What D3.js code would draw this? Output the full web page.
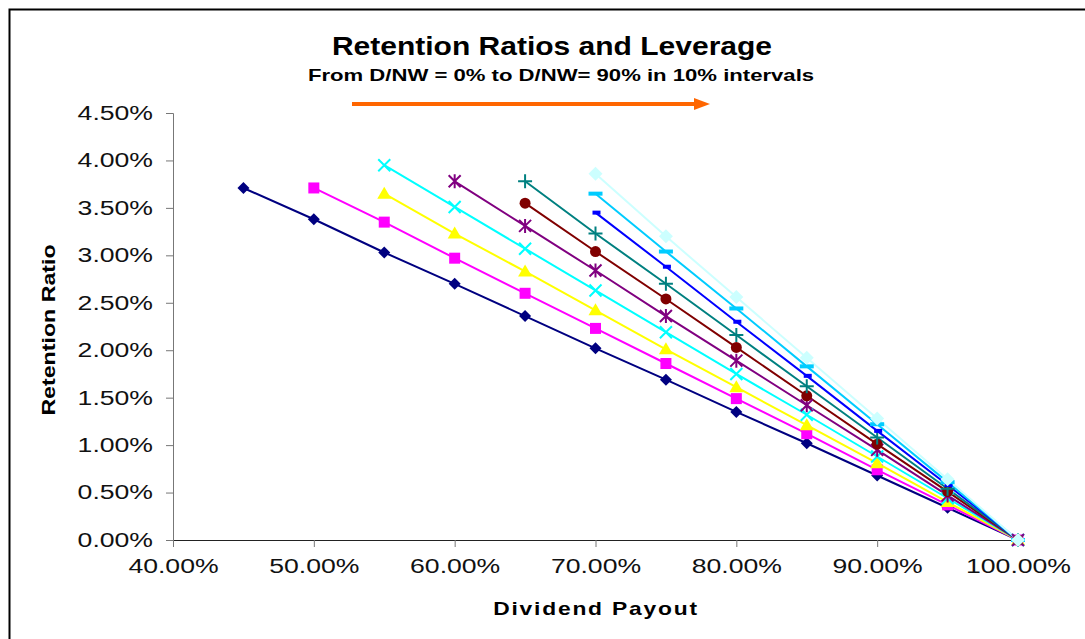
<!DOCTYPE html>
<html lang="en">
<head>
    <meta charset="UTF-8">
    <title>Retention Ratios and Leverage</title>
    <script src="https://d3js.org/d3.v7.min.js"></script>
    <style>
        body { margin: 0; background: #fff; font-family: "Liberation Sans", Arial, sans-serif; }
        .tick text { font-size: 20px; fill: #111; }
        .title { font-size: 25px; font-weight: bold; }
        .subtitle { font-size: 16.5px; font-weight: bold; }
        .axis-label { font-weight: bold; }
    </style>
</head>
<body>
    <div id="chart"></div>
    <script>
        const width = 1085, height = 639;

        // Dividend payout categories (x)
        const payouts = [0.45, 0.50, 0.55, 0.60, 0.65, 0.70, 0.75, 0.80, 0.85, 0.90, 0.95, 1.00];

        // Retention ratio per D/NW level, starting at the first payout value shown
        const dnw0 = [0.0371, 0.0338, 0.0303, 0.0270, 0.0236, 0.0202, 0.0169, 0.0135, 0.0102, 0.0068, 0.0034, 0];
        const dnw10 = [null, 0.0371, 0.0335, 0.0297, 0.0260, 0.0223, 0.0186, 0.0149, 0.0112, 0.0074, 0.0037, 0];
        const dnw20 = [null, null, 0.0365, 0.0323, 0.0283, 0.0242, 0.0201, 0.0161, 0.0121, 0.0081, 0.0040, 0];
        const dnw30 = [null, null, 0.0395, 0.0351, 0.0307, 0.0263, 0.0219, 0.0175, 0.0132, 0.0088, 0.0044, 0];
        const dnw40 = [null, null, null, 0.0378, 0.0331, 0.0284, 0.0236, 0.0189, 0.0142, 0.0095, 0.0047, 0];
        const dnw50 = [null, null, null, null, 0.0355, 0.0304, 0.0254, 0.0203, 0.0152, 0.0101, 0.0051, 0];
        const dnw60 = [null, null, null, null, 0.0378, 0.0323, 0.0270, 0.0216, 0.0162, 0.0108, 0.0054, 0];
        const dnw70 = [null, null, null, null, null, 0.0345, 0.0288, 0.0230, 0.0173, 0.0115, 0.0058, 0];
        const dnw80 = [null, null, null, null, null, 0.0365, 0.0304, 0.0244, 0.0183, 0.0122, 0.0061, 0];
        const dnw90 = [null, null, null, null, null, 0.0386, 0.0320, 0.0256, 0.0192, 0.0128, 0.0064, 0];

        const xTicks = [0.4, 0.5, 0.6, 0.7, 0.8, 0.9, 1.0];
        const yTicks = [0, 0.005, 0.01, 0.015, 0.02, 0.025, 0.03, 0.035, 0.04, 0.045];

        const series = [
            { values: dnw0, color: "#000080", marker: "diamond" },
            { values: dnw10, color: "#FF00FF", marker: "square" },
            { values: dnw20, color: "#FFFF00", marker: "triangle" },
            { values: dnw30, color: "#00FFFF", marker: "x" },
            { values: dnw40, color: "#800080", marker: "star" },
            { values: dnw50, color: "#800000", marker: "circle" },
            { values: dnw60, color: "#008080", marker: "plus" },
            { values: dnw70, color: "#0000FF", marker: "shortdash" },
            { values: dnw80, color: "#00CCFF", marker: "longdash" },
            { values: dnw90, color: "#CCFFFF", marker: "bigdiamond" }
        ];

        const x = d3.scaleLinear().domain([0.4, 1.0]).range([173, 1018]);
        const y = d3.scaleLinear().domain([0, 0.045]).range([540, 113]);

        const svg = d3.select("#chart").append("svg")
            .attr("width", width).attr("height", height);

        // the original image is stretched sideways, widen text to match
        function stretch(sel, k) {
            sel.each(function () {
                const len = this.getComputedTextLength();
                d3.select(this).attr("textLength", len * k).attr("lengthAdjust", "spacingAndGlyphs");
            });
        }

        // Outer frame
        svg.append("rect")
            .attr("x", 9.5).attr("y", 9.5)
            .attr("width", width + 20).attr("height", height + 20)
            .attr("fill", "none").attr("stroke", "#000").attr("stroke-width", 2);

        // Titles
        svg.append("text").attr("class", "title")
            .attr("x", 552).attr("y", 55).attr("text-anchor", "middle")
            .text("Retention Ratios and Leverage")
            .call(stretch, 1.2);
        svg.append("text").attr("class", "subtitle")
            .attr("x", 561).attr("y", 81).attr("text-anchor", "middle")
            .text("From D/NW = 0% to D/NW= 90% in 10% intervals")
            .call(stretch, 1.34);

        // Orange arrow
        svg.append("line")
            .attr("x1", 352).attr("x2", 696).attr("y1", 104).attr("y2", 104)
            .attr("stroke", "#FF6600").attr("stroke-width", 4);
        svg.append("path")
            .attr("d", "M694,98 L710,104 L694,110 Z")
            .attr("fill", "#FF6600");

        // Axes
        const fmt = d3.format(".2%");
        const yAxis = svg.append("g").attr("transform", `translate(173,0)`)
            .call(d3.axisLeft(y).tickValues(yTicks).tickFormat(fmt).tickSize(7).tickPadding(13));
        yAxis.select(".domain").attr("stroke", "#777");
        yAxis.selectAll(".tick line").attr("stroke", "#777");
        yAxis.selectAll(".tick text").call(stretch, 1.33);

        const xAxis = svg.append("g").attr("transform", `translate(0,540)`)
            .call(d3.axisBottom(x).tickValues(xTicks).tickFormat(fmt).tickSize(7).tickPadding(12));
        xAxis.select(".domain").attr("stroke", "#222");
        xAxis.selectAll(".tick line").attr("stroke", "#777");
        xAxis.selectAll(".tick text").call(stretch, 1.33);

        svg.append("text").attr("class", "axis-label")
            .attr("transform", "rotate(-90)")
            .attr("x", -330).attr("y", 55)
            .attr("text-anchor", "middle").attr("font-size", 19)
            .text("Retention Ratio")
            .call(stretch, 1.22);
        svg.append("text").attr("class", "axis-label")
            .attr("x", 596).attr("y", 615)
            .attr("text-anchor", "middle").attr("font-size", 19)
            .attr("letter-spacing", "1.5px")
            .text("Dividend Payout")
            .call(stretch, 1.2);

        // Lines and markers
        const line = d3.line()
            .defined(d => d.v !== null)
            .x(d => x(d.p)).y(d => y(d.v));

        series.forEach(s => {
            const pts = payouts.map((p, i) => ({ p, v: s.values[i] }));
            svg.append("path").datum(pts)
                .attr("d", line)
                .attr("fill", "none").attr("stroke", s.color).attr("stroke-width", 2);
        });

        function drawMarker(g, type, color) {
            switch (type) {
                case "diamond":
                    g.append("path").attr("d", "M0,-6 L6,0 L0,6 L-6,0 Z").attr("fill", color); break;
                case "bigdiamond":
                    g.append("path").attr("d", "M0,-7 L7,0 L0,7 L-7,0 Z").attr("fill", color); break;
                case "square":
                    g.append("rect").attr("x", -5.5).attr("y", -5.5).attr("width", 11).attr("height", 11).attr("fill", color); break;
                case "triangle":
                    g.append("path").attr("d", "M0,-7 L7,5 L-7,5 Z").attr("fill", color); break;
                case "circle":
                    g.append("circle").attr("r", 5.5).attr("fill", color); break;
                case "x":
                    g.append("path").attr("d", "M-6,-6 L6,6 M-6,6 L6,-6").attr("stroke", color).attr("stroke-width", 2); break;
                case "plus":
                    g.append("path").attr("d", "M-7,0 L7,0 M0,-7 L0,7").attr("stroke", color).attr("stroke-width", 2); break;
                case "star":
                    g.append("path").attr("d", "M-6,-6 L6,6 M-6,6 L6,-6 M0,-7 L0,7").attr("stroke", color).attr("stroke-width", 2); break;
                case "shortdash":
                    g.append("rect").attr("x", -3).attr("y", -2).attr("width", 8).attr("height", 4).attr("fill", color); break;
                case "longdash":
                    g.append("rect").attr("x", -7).attr("y", -2).attr("width", 14).attr("height", 4).attr("fill", color); break;
            }
        }

        series.forEach(s => {
            payouts.forEach((p, i) => {
                const v = s.values[i];
                if (v === null) return;
                const g = svg.append("g").attr("transform", `translate(${x(p)},${y(v)})`);
                drawMarker(g, s.marker, s.color);
            });
        });
    </script>
</body>
</html>
